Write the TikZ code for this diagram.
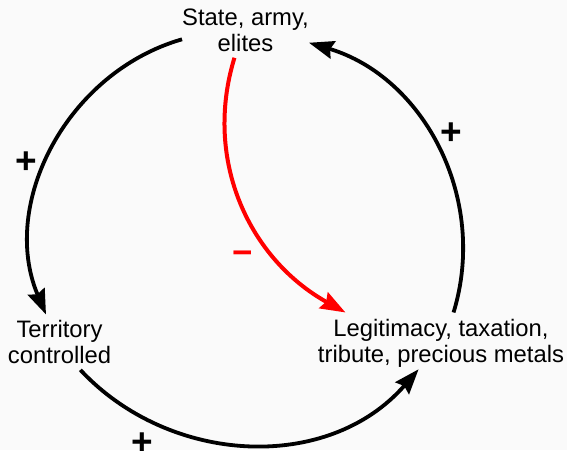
\documentclass[tikz,border=0pt]{standalone}
\usepackage{fontspec}
\setmainfont{Liberation Sans}
\usetikzlibrary{arrows.meta}
\definecolor{bgcol}{RGB}{250,250,250}
\tikzset{
	factor/.style={align=center, font=\fontsize{23.8}{25.5}\selectfont},
	link/.style={line width=3.8pt, -{Stealth[length=25pt,width=18pt,inset=3pt]}},
	sign/.style={anchor=base, inner sep=0pt, font=\fontsize{37}{37}\selectfont\bfseries}
}
\begin{document}
\begin{tikzpicture}[x=1pt,y=1pt]
	\fill[bgcol] (0,0) rectangle (567,450);
	\useasboundingbox (0,0) rectangle (567,450);

% 1. Các nút
\node[factor, inner xsep=0pt, inner ysep=6pt] (state) at (245.5,419.6) {State, army,\\elites};
\node[factor, inner sep=6pt] (terr) at (59.5,107.8) {Territory\\controlled};
\node[factor, inner xsep=0pt, inner ysep=7pt] (legit) at (441,106.5) {Legitimacy, taxation,\\tribute, precious metals};

% 2. Vòng ngoài
\draw[link] (state.188.6) to[out=196, in=113] (terr.116.4);
\draw[link, shorten >=-7pt] (terr.307) to[out=-47, in=229] (legit.229.5);
\draw[link] (legit.68.5) to[out=73, in=-16.6] (state.349.6);

% 3. Mũi tên đỏ
\draw[link, red, line width=4pt] (state.248.5) to[out=253, in=151] (legit.162.9);

% 4. Dấu
\node[sign] (p1) at (26.5,276.2) {+};
\node[sign] (p2) at (451,305.7) {+};
\node[sign] (p3) at (142,-4.3) {+};
\node[sign, red, font=\fontsize{35}{35}\selectfont\bfseries] (m1) at (242.5,185.4) {−};
	\end{tikzpicture}
\end{document}
